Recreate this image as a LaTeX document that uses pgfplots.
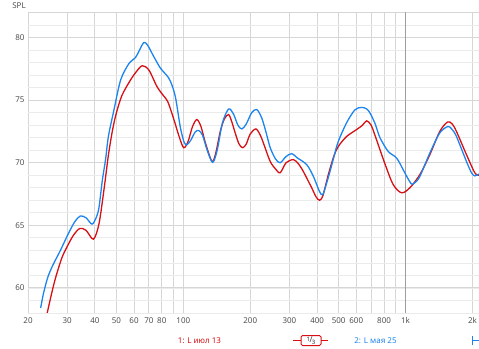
\documentclass[border=0pt]{standalone}
\usepackage{pgfplots}
\pgfplotsset{compat=1.18}
\usepackage{fontspec}
\setmainfont{Noto Sans}
\definecolor{redc}{RGB}{214,16,20}
\definecolor{bluec}{RGB}{28,132,238}
\definecolor{tickc}{RGB}{80,80,80}
\begin{document}
\begin{tikzpicture}[x=1pt,y=1pt]
\begin{axis}[
  at={(28pt,35pt)}, anchor=south west,
  scale only axis, width=451pt, height=300.5pt,
  xmode=log, xmin=20, xmax=2140, ymin=58, ymax=82,
  axis line style={draw=none},
  major tick length=0pt, minor tick length=0pt,
  /pgf/number format/assume math mode=true,
  xtick={20,30,40,50,60,70,80,90,200,300,400,500,600,700,800,900,1000,2000},
  xticklabels={20,30,40,50,60,70,80,,200,300,400,500,600,,800,,1k,2k},
  extra x ticks={100}, extra x tick labels={100},
  extra x tick style={grid style={draw=black!27,line width=1.6pt}},
  ytick={60,65,70,75,80},
  minor ytick={58,59,...,82},
  extra y ticks={82}, extra y tick labels={},
  extra y tick style={grid style={draw=black!20,line width=1pt}},
  grid=both,
  major grid style={draw=black!16,line width=1pt},
  minor grid style={draw=black!8,line width=0.8pt},
  tick label style={font=\fontsize{8}{9}\selectfont, text=tickc},
  xticklabel style={yshift=-1pt},
  clip=true,
]
\draw[black!38,line width=0.7pt] (axis cs:1000,58) -- (axis cs:1000,82);
\addplot[redc, line width=1.3pt, smooth] coordinates {
(24.4,58.0) (25.5,59.5) (26.6,60.8) (28.4,62.4) (30.0,63.3) (32.0,64.2)
(34.2,64.75) (36.5,64.6) (39.4,63.9) (41.7,65.1) (43.9,67.8) (46,70.6)
(48,72.6) (50,74.0) (53,75.4) (57.8,76.6) (61,77.2) (65.3,77.75) (70,77.4)
(76,76.1) (81,75.4) (85,74.9) (90.5,73.5) (95.3,72.2) (100.3,71.2) (105,71.7)
(110,72.9) (115,73.45) (120,72.9) (125.6,71.6) (134.6,70.1) (140,70.8)
(146.6,72.5) (153,73.5) (159.8,73.85) (165,73.3) (171,72.4) (178,71.5)
(185,71.2) (192,71.5) (200,72.3) (212,72.7) (222,72.2) (230,71.5) (246,70.1)
(260,69.5) (272.7,69.2) (290,70.0) (312.8,70.25) (330,69.9) (346.7,69.3)
(378,68.0) (395,67.3) (410,67.0) (425,67.4) (449,69.05) (475,70.5) (498,71.3)
(543,72.1) (602,72.65) (640,73.0) (668,73.35) (700,73.0) (728,72.2) (808,69.9)
(880,68.25) (960,67.6) (1045,68.0) (1159,69.05) (1286,70.65) (1425,72.5)
(1544,73.25) (1620,73.1) (1694,72.5) (1879,70.65) (2048,69.2) (2140,69.0)
};
\addplot[bluec, line width=1.3pt, smooth] coordinates {
(22.8,58.4) (23.5,59.6) (24.6,60.9) (26,61.9) (27.8,62.9) (30.5,64.4)
(32.5,65.3) (34.4,65.75) (36.5,65.6) (38.8,65.1) (40.5,65.6) (41.7,66.4)
(43.2,68.6) (44.7,70.3) (46,72.1) (48.7,74.2) (52.2,76.6) (56.8,77.9)
(60.9,78.4) (63.5,79.0) (66.4,79.6) (69,79.4) (73.5,78.5) (78.9,77.55)
(84,77.0) (87.5,76.5) (92,75.3) (97,72.8) (101,71.6) (104,71.45) (108,71.8)
(113,72.45) (117.2,72.58) (122,72.2) (128,71.0) (135.5,70.03) (142,71.0)
(150,73.2) (159.8,74.29) (168,73.9) (176,73.0) (183.4,72.7) (192,73.1)
(203,74.0) (214,74.25) (225,73.6) (235,72.5) (246,71.2) (260,70.3)
(272.7,70.0) (290,70.5) (307.6,70.73) (325,70.4) (359,69.85) (385,68.9)
(410,67.7) (423.8,67.45) (440,68.3) (457,69.3) (478,70.6) (498,71.7)
(543,73.2) (592,74.23) (634,74.42) (668,74.3) (691.6,73.97) (730,73.1)
(767,72.0) (835.6,70.9) (911,70.38) (975,69.45) (1020,68.8) (1064,68.3)
(1100,68.4) (1159,68.9) (1286,70.78) (1425,72.38) (1553,72.9) (1620,72.65)
(1694,72.1) (1879,70.1) (1980,69.2) (2048,68.95) (2140,69.1)
};
\end{axis}
\node[font=\fontsize{8}{9}\selectfont, text=tickc] at (19,342) {SPL};
\node[font=\fontsize{8}{9}\selectfont, text=redc] at (199.5,7.7) {1: L июл 13};
\draw[redc, line width=1pt] (293,7.5) -- (301,7.5) (321,7.5) -- (328,7.5);
\draw[redc, line width=1pt, rounded corners=1.5pt] (301,2.5) rectangle (321,12.5);
\node[text=black!80, inner sep=0pt] at (311,7.5) {\raisebox{1pt}{\fontsize{6}{6}\selectfont 1}\kern-0.6pt{\fontsize{8}{8}\selectfont /}\kern-0.6pt\raisebox{-1.5pt}{\fontsize{6}{6}\selectfont 3}};
\node[font=\fontsize{8}{9}\selectfont, text=bluec] at (375.5,7.7) {2: L мая 25};
\draw[bluec, line width=1pt] (472,7.5) -- (479,7.5) (472.5,3) -- (472.5,12);
\pgfresetboundingbox
\useasboundingbox (0,0) rectangle (479,348);
\end{tikzpicture}
\end{document}
